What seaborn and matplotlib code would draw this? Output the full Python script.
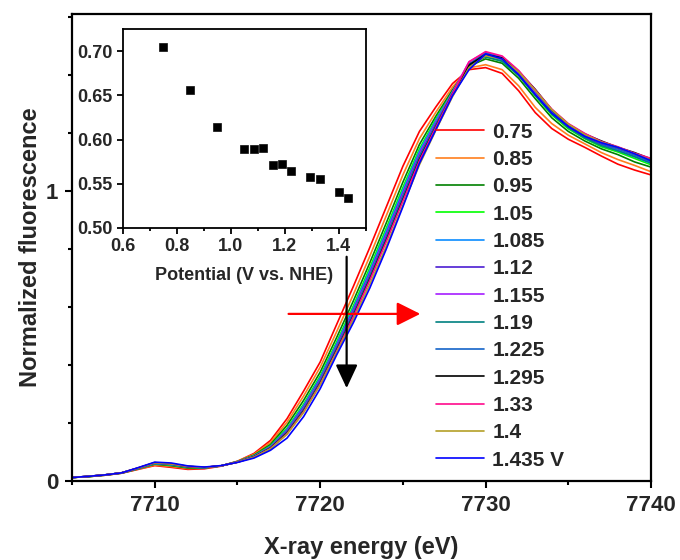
import matplotlib
matplotlib.use("Agg")
import matplotlib.pyplot as plt
import numpy as np
import pandas as pd
import seaborn as sns
from matplotlib.ticker import MultipleLocator, FormatStrFormatter

# ---------------- data ----------------
energy = list(range(7705, 7741))  # eV

labels = ["0.75", "0.85", "0.95", "1.05", "1.085", "1.12", "1.155",
          "1.19", "1.225", "1.295", "1.33", "1.4", "1.435 V"]
colors = ["#FF0000", "#FF7F1E", "#008000", "#00FF00", "#0A8CFF", "#4B1ED2",
          "#A51EFF", "#008080", "#1464C8", "#000000", "#FF0A8C", "#B4A028",
          "#0000FF"]

v_075 = [.012, .015, .020, .027, .040, .053, .047, .040, .042, .051, .068,
         .095, .140, .215, .310, .410, .540, .670, .805, .945, 1.085, 1.205, 1.290, 1.370, 1.418,
         1.425, 1.405, 1.345, 1.270, 1.215, 1.178, 1.150, 1.120, 1.092, 1.072, 1.055]
v_085 = [.012, .015, .020, .027, .041, .055, .050, .043, .044, .052, .068,
         .092, .133, .203, .293, .392, .515, .642, .775, .915, 1.055, 1.180, 1.272, 1.358, 1.424,
         1.435, 1.418, 1.362, 1.288, 1.232, 1.192, 1.162, 1.132, 1.108, 1.088, 1.066]
v_095 = [.012, .015, .020, .027, .042, .058, .053, .045, .045, .052, .067,
         .089, .126, .192, .278, .375, .495, .620, .752, .890, 1.030, 1.160, 1.258, 1.348, 1.430,
         1.455, 1.440, 1.388, 1.318, 1.252, 1.205, 1.172, 1.145, 1.125, 1.100, 1.082]
v_105 = [.012, .015, .021, .028, .043, .060, .055, .047, .046, .052, .067,
         .087, .121, .182, .265, .362, .480, .603, .735, .872, 1.012, 1.145, 1.248, 1.342, 1.434,
         1.462, 1.447, 1.398, 1.328, 1.262, 1.214, 1.180, 1.152, 1.134, 1.112, 1.090]
v_1085 = [.012, .016, .021, .028, .043, .060, .056, .048, .046, .052, .066,
          .086, .119, .178, .260, .356, .473, .595, .725, .862, 1.002, 1.137, 1.243, 1.340, 1.436,
          1.468, 1.452, 1.405, 1.336, 1.270, 1.222, 1.186, 1.160, 1.140, 1.118, 1.095]
v_112 = [.012, .016, .021, .028, .044, .062, .058, .049, .047, .052, .066,
         .085, .117, .174, .254, .350, .466, .587, .716, .852, .992, 1.128, 1.236, 1.337, 1.438,
         1.472, 1.455, 1.402, 1.334, 1.268, 1.220, 1.184, 1.162, 1.145, 1.124, 1.102]
v_1155 = [.012, .016, .021, .028, .044, .062, .058, .049, .047, .052, .066,
          .085, .116, .172, .251, .347, .463, .583, .712, .848, .988, 1.126, 1.236, 1.340, 1.445,
          1.478, 1.460, 1.408, 1.340, 1.275, 1.226, 1.190, 1.166, 1.148, 1.128, 1.105]
v_119 = [.012, .016, .021, .028, .044, .061, .057, .048, .046, .052, .065,
         .084, .115, .169, .247, .343, .459, .578, .706, .841, .981, 1.119, 1.230, 1.336, 1.432,
         1.462, 1.447, 1.398, 1.330, 1.265, 1.218, 1.182, 1.156, 1.138, 1.118, 1.096]
v_1225 = [.012, .016, .021, .028, .044, .062, .058, .050, .047, .052, .065,
          .083, .113, .166, .244, .339, .455, .574, .701, .836, .975, 1.113, 1.226, 1.334, 1.436,
          1.476, 1.458, 1.410, 1.345, 1.275, 1.228, 1.192, 1.165, 1.146, 1.124, 1.100]
v_1295 = [.012, .016, .021, .028, .045, .063, .059, .050, .047, .052, .065,
          .083, .113, .165, .241, .336, .451, .569, .696, .830, .969, 1.108, 1.222, 1.333, 1.434,
          1.470, 1.458, 1.412, 1.350, 1.280, 1.230, 1.196, 1.172, 1.150, 1.132, 1.110]
v_133 = [.012, .016, .021, .028, .045, .063, .059, .050, .047, .052, .065,
         .082, .112, .163, .239, .334, .448, .566, .692, .826, .965, 1.104, 1.220, 1.334, 1.445,
         1.480, 1.465, 1.415, 1.348, 1.282, 1.232, 1.198, 1.170, 1.152, 1.130, 1.112]
v_140 = [.012, .016, .021, .028, .045, .063, .059, .051, .047, .052, .065,
         .082, .111, .161, .236, .331, .444, .555, .678, .810, .950, 1.090, 1.210, 1.325, 1.425,
         1.466, 1.455, 1.410, 1.346, 1.280, 1.230, 1.194, 1.168, 1.150, 1.128, 1.106]
v_1435 = [.012, .016, .021, .028, .046, .065, .062, .052, .048, .053, .064,
          .079, .106, .148, .222, .318, .435, .545, .665, .800, .945, 1.095, 1.212, 1.328, 1.418,
          1.472, 1.455, 1.400, 1.332, 1.268, 1.222, 1.188, 1.166, 1.150, 1.128, 1.104]

spectra = [v_075, v_085, v_095, v_105, v_1085, v_112, v_1155,
           v_119, v_1225, v_1295, v_133, v_140, v_1435]

inset_potential = [0.75, 0.85, 0.95, 1.05, 1.085, 1.12, 1.155, 1.19,
                   1.225, 1.295, 1.33, 1.4, 1.435]
inset_value = [0.7045, 0.656, 0.614, 0.589, 0.589, 0.5905, 0.571, 0.5725,
               0.5645, 0.5577, 0.555, 0.5404, 0.534]

# ---------------- style ----------------
sns.set_theme(style="ticks")
plt.rcParams["font.family"] = ["Liberation Sans", "DejaVu Sans"]
plt.rcParams["font.weight"] = "bold"
plt.rcParams["axes.labelweight"] = "bold"

df = pd.DataFrame({
    "E": np.tile(energy, len(labels)),
    "v": np.concatenate([np.array(s) for s in spectra]),
    "pot": np.repeat(labels, len(energy)),
})

fig = plt.figure(figsize=(6.8, 5.6), dpi=100)
ax = fig.add_axes([0.1059, 0.1411, 0.8515, 0.834])

sns.lineplot(data=df, x="E", y="v", hue="pot", hue_order=labels,
             palette=dict(zip(labels, colors)), estimator=None, sort=False,
             linewidth=1.2, ax=ax)

ax.set_xlim(7705, 7740)
ax.set_ylim(0, 1.61)
ax.xaxis.set_major_locator(MultipleLocator(10))
ax.xaxis.set_minor_locator(MultipleLocator(5))
ax.yaxis.set_major_locator(MultipleLocator(1))
ax.yaxis.set_minor_locator(MultipleLocator(0.2))
ax.tick_params(axis="both", which="major", direction="out", length=5,
               width=1.5, labelsize=16, pad=5, color="black")
ax.tick_params(axis="both", which="minor", direction="out", length=3,
               width=1.5, color="black")
for lab in ax.get_xticklabels() + ax.get_yticklabels():
    lab.set_fontweight("bold")
for sp in ax.spines.values():
    sp.set_linewidth(1.6)
    sp.set_color("black")
    sp.set_visible(True)

ax.set_xlabel("X-ray energy (eV)", fontsize=17, fontweight="bold")
ax.set_ylabel("Normalized fluorescence", fontsize=17, fontweight="bold")
ax.xaxis.set_label_coords(0.5, -0.118)
ax.yaxis.set_label_coords(-0.052, 0.5)

handles, hl = ax.get_legend_handles_labels()
leg = ax.legend(handles, hl, loc="upper left", bbox_to_anchor=(0.641, 0.781),
                bbox_transform=fig.transFigure, frameon=False, fontsize=15,
                handlelength=2.3, handletextpad=0.4, labelspacing=0.4,
                borderpad=0, borderaxespad=0)
for t in leg.get_texts():
    t.set_fontweight("bold")

# arrows
ax.annotate("", xy=(7726.05, 0.576), xytext=(7718.09, 0.576),
            arrowprops=dict(arrowstyle="-|>,head_length=0.9,head_width=0.45",
                            color="#FF0000", lw=1.6, shrinkA=0, shrinkB=0,
                            mutation_scale=16))
ax.annotate("", xy=(7721.6, 0.32), xytext=(7721.6, 0.773),
            arrowprops=dict(arrowstyle="-|>,head_length=0.9,head_width=0.42",
                            color="black", lw=1.6, shrinkA=0, shrinkB=0,
                            mutation_scale=16))

# ---------------- inset ----------------
axin = fig.add_axes([0.1804, 0.5929, 0.3574, 0.3554])
sns.scatterplot(x=inset_potential, y=inset_value, marker="s", color="black",
                edgecolor="black", s=32, ax=axin)
axin.set_xlim(0.6, 1.5)
axin.set_ylim(0.5, 0.725)
axin.xaxis.set_major_locator(MultipleLocator(0.2))
axin.xaxis.set_minor_locator(MultipleLocator(0.1))
axin.yaxis.set_major_locator(MultipleLocator(0.05))
axin.xaxis.set_major_formatter(FormatStrFormatter("%.1f"))
axin.yaxis.set_major_formatter(FormatStrFormatter("%.2f"))
axin.tick_params(axis="both", which="major", direction="out", length=4,
                 width=1.3, labelsize=13, pad=3, color="black")
axin.tick_params(axis="both", which="minor", direction="out", length=2.5,
                 width=1.3, color="black")
for lab in axin.get_xticklabels() + axin.get_yticklabels():
    lab.set_fontweight("bold")
for sp in axin.spines.values():
    sp.set_linewidth(1.3)
    sp.set_color("black")
    sp.set_visible(True)
axin.set_xlabel("Potential (V vs. NHE)", fontsize=13, fontweight="bold",
                labelpad=9)
axin.set_ylabel("")

fig.savefig("out.png", dpi=100)
